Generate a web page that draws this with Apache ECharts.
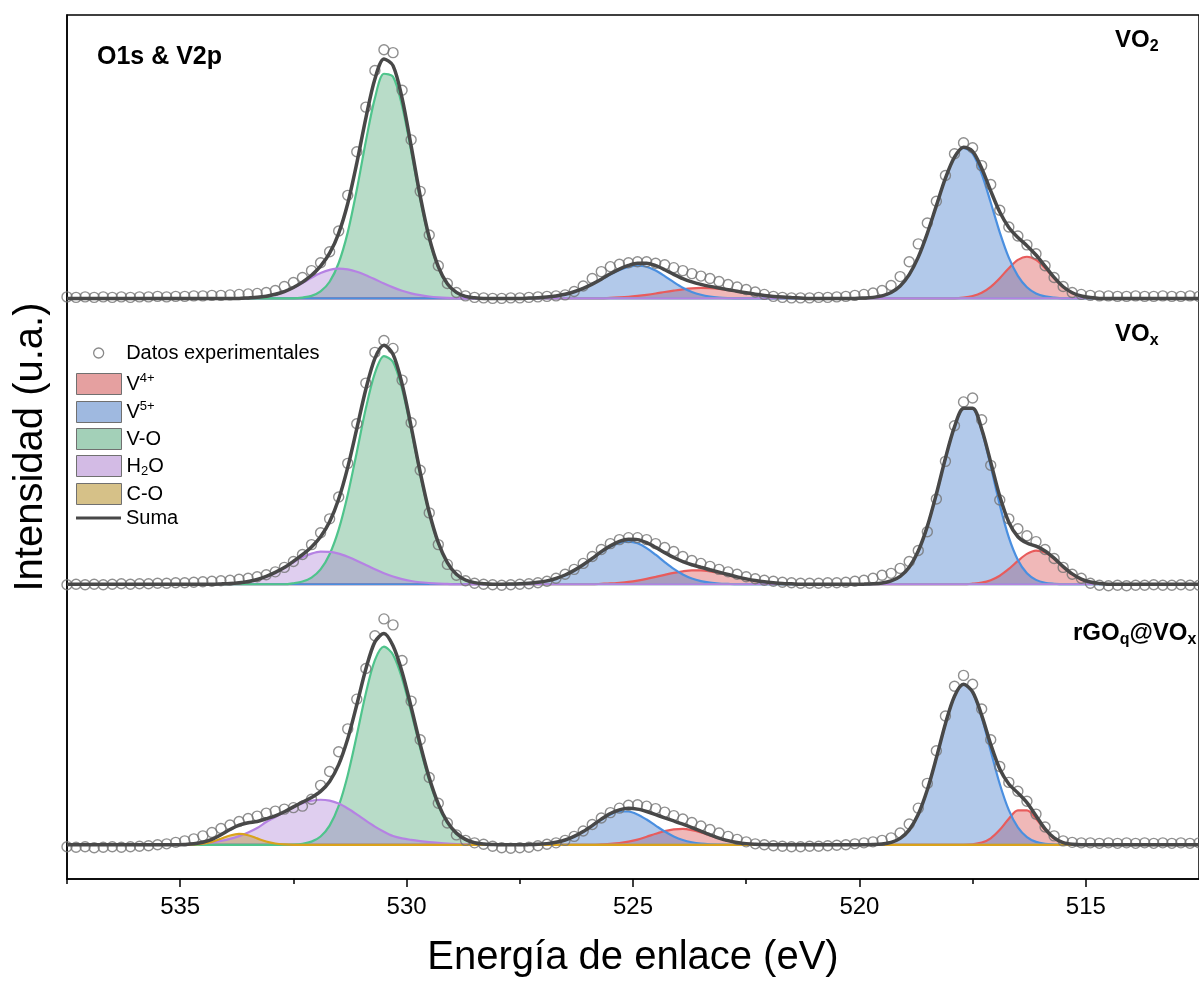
<!DOCTYPE html>
<html>
<head>
<meta charset="utf-8">
<script src="https://cdn.jsdelivr.net/npm/echarts@6/dist/echarts.min.js"></script>
<style>
html,body{margin:0;padding:0;background:#fff;}
#chart{width:1199px;height:983px;}
</style>
</head>
<body>
<div id="chart"></div>
<script>
// Binding energy grid (eV) for experimental points and fit envelope
const energy = [
537.5,537.3,537.1,536.9,536.7,536.5,536.3,536.1,535.9,535.7,
535.5,535.3,535.1,534.9,534.7,534.5,534.3,534.1,533.9,533.7,
533.5,533.3,533.1,532.9,532.7,532.5,532.3,532.1,531.9,531.7,
531.5,531.3,531.1,530.9,530.7,530.5,530.3,530.1,529.9,529.7,
529.5,529.3,529.1,528.9,528.7,528.5,528.3,528.1,527.9,527.7,
527.5,527.3,527.1,526.9,526.7,526.5,526.3,526.1,525.9,525.7,
525.5,525.3,525.1,524.9,524.7,524.5,524.3,524.1,523.9,523.7,
523.5,523.3,523.1,522.9,522.7,522.5,522.3,522.1,521.9,521.7,
521.5,521.3,521.1,520.9,520.7,520.5,520.3,520.1,519.9,519.7,
519.5,519.3,519.1,518.9,518.7,518.5,518.3,518.1,517.9,517.7,
517.5,517.3,517.1,516.9,516.7,516.5,516.3,516.1,515.9,515.7,
515.5,515.3,515.1,514.9,514.7,514.5,514.3,514.1,513.9,513.7,
513.5,513.3,513.1,512.9,512.7,512.5];

// ---------- VO2 (top) ----------
const vo2Data = [
1.5,1,1.5,1,1.5,1,1.5,1,1.5,1.5,
2,1.5,2,2,2.5,2.5,3,3,3.5,4,
4.5,5,6,8,12,16,21,28,36,47,
68,104,148,193,230,251,248,210,160,108,
64,33,15,6,2.5,1,0.5,0,0,0.5,
0.5,1,1.5,2,2.5,3.5,7,12.5,20,27,
32,34.5,36,37,37,35.5,34,31,28,25,
22.5,20,17,14,11.5,9,6.5,4,2,1,
0.5,0.5,0.5,1,1,1.5,2,3,4,5.5,
8,13,22,37,55,76,98,124,146,157,
152,134,115,89,72,63,54,45,33,21,
12,6,4,3,2.5,2.5,2,2,2.5,2,
2,2.5,2,2,2.5,2];
const vo2Sum = [
0,0,0,0,0,0,0,0,0,0,
0,0,0,0,0,0,0,0,0,0,
0.5,1.1,2.2,4.1,6.9,11.0,16.4,23.3,32.5,45.6,
65.7,95.8,136.5,182.0,221.4,241.7,234.9,202.2,153.9,103.4,
61.3,32.1,14.8,6.0,2.0,0.6,0,0,0,0,
0,0.3,0.7,1.3,2.4,4.1,6.7,10.1,14.4,19.3,
24.8,29.6,33.3,35.5,35.5,33.0,28.9,24.2,19.9,16.6,
14.1,12.1,10.4,8.8,7.1,5.6,4.2,3.0,2.0,1.3,
0.8,0.4,0,0,0,0,0,0,0.4,1.0,
2.5,5.9,12.5,24.0,41.6,65.6,93.6,121.3,142.5,152.6,
148.4,131.4,108.5,87.1,71.6,61.5,53.2,43.8,32.5,21.1,
11.7,5.7,2.4,0.8,0,0,0,0,0,0,
0,0,0,0,0,0];
const vo2V4 = [[537.5,0],[525.7,0],[525.5,0.6],[525.3,1.0],[525.1,1.6],[524.9,2.5],[524.7,3.6],[524.5,4.9],[524.3,6.4],[524.1,7.8],[523.9,9.1],[523.7,10.1],[523.5,10.5],[523.3,10.3],[523.1,9.6],[522.9,8.5],[522.7,7.1],[522.5,5.6],[522.3,4.2],[522.1,3.0],[521.9,2.0],[521.7,1.3],[521.5,0.8],[521.3,0.4],[521.1,0],[517.9,0],[517.7,0.8],[517.5,2.4],[517.3,5.7],[517.1,11.7],[516.9,20.4],[516.7,30.5],[516.5,38.8],[516.3,42],[516.1,38.8],[515.9,30.5],[515.7,20.4],[515.5,11.7],[515.3,5.7],[515.1,2.4],[514.9,0.8],[514.7,0],[512.5,0]];
const vo2V5 = [[537.5,0],[527.5,0],[527.3,0.3],[527.1,0.7],[526.9,1.3],[526.7,2.4],[526.5,4.1],[526.3,6.7],[526.1,10.1],[525.9,14.4],[525.7,19.3],[525.5,24.2],[525.3,28.6],[525.1,31.7],[524.9,33.0],[524.7,31.9],[524.5,28.1],[524.3,22.5],[524.1,16.4],[523.9,10.8],[523.7,6.5],[523.5,3.6],[523.3,1.8],[523.1,0.8],[522.9,0.3],[522.7,0],[520.1,0],[519.9,0.4],[519.7,1.0],[519.5,2.5],[519.3,5.9],[519.1,12.5],[518.9,24.0],[518.7,41.6],[518.5,65.6],[518.3,93.6],[518.1,121.3],[517.9,142.5],[517.7,151.8],[517.5,146.0],[517.3,125.7],[517.1,96.8],[516.9,66.7],[516.7,41.1],[516.5,22.7],[516.3,11.2],[516.1,5.0],[515.9,2.0],[515.7,0.7],[515.5,0],[512.5,0]];
const vo2VO = [[537.5,0],[532.5,0],[532.3,0.8],[532.1,2.5],[531.9,7.0],[531.7,16.8],[531.5,35.7],[531.3,66.6],[531.1,109.6],[530.9,158.6],[530.7,202.1],[530.5,226.7],[530.3,223.8],[530.1,194.5],[529.9,148.8],[529.7,100.2],[529.5,59.4],[529.3,31.0],[529.1,14.2],[528.9,5.7],[528.7,2.0],[528.5,0.6],[528.3,0],[512.5,0]];
const vo2H2O = [[537.5,0],[533.7,0],[533.5,0.5],[533.3,1.1],[533.1,2.2],[532.9,4.1],[532.7,6.9],[532.5,10.8],[532.3,15.6],[532.1,20.8],[531.9,25.5],[531.7,28.8],[531.5,30],[531.3,29.2],[531.1,26.9],[530.9,23.4],[530.7,19.3],[530.5,15.0],[530.3,11.1],[530.1,7.7],[529.9,5.1],[529.7,3.2],[529.5,1.9],[529.3,1.1],[529.1,0.6],[528.9,0.3],[528.7,0],[512.5,0]];

// ---------- VOx (middle) ----------
const voxData = [
-0.5,0,-0.5,0,-0.5,0,0.5,0,0.5,0.5,
1,1,1.5,1.5,2,2.5,3,3.5,4,5,
6,7.5,9.5,12.5,17,23,30,40,52,66,
88,122,162,203,234,246,238,206,163,115,
72,40,20,9,3.5,1,0,-0.5,-1,-0.5,
0,0.5,1.5,3,6,10,15,21,28,35,
41,45,47,47,45,41,37,33,28,24,
21,18,15,12.5,10,7.5,5.5,4,3,2,
1.5,1,1,1,1.5,1.5,2,3,4,6,
9,11,16,23,34,53,86,124,160,184,
188,166,120,85,66,56,49,43,35,26,
17,10,6,1,-1,-1.5,-1,-1.5,-1,-1,
-0.5,-1,-1,-0.5,-1,-1];
const voxSum = [
0,0,0,0,0,0,0,0,0,0,
0,0,0,0,0,0,0,0.3,0.7,1.5,
2.8,4.8,7.9,11.9,16.8,23.1,29.8,37.6,47.9,63.0,
86.0,118.0,157.1,196.8,228.0,241.3,232.1,202.2,159.2,113.1,
72.6,41.9,21.9,10.1,4.3,1.6,0.6,0,0,0.2,
0.5,1.0,1.9,3.4,5.8,9.3,14.0,19.7,26.1,32.9,
38.7,43.2,45.4,45.0,41.9,37.2,31.9,27.0,22.9,19.7,
17.1,14.6,12.2,9.8,7.4,5.4,3.7,2.4,1.5,0.8,
0.4,0,0,0,0,0,0,0,0.1,0.4,
1.2,3.3,7.9,17.2,33.5,58.4,91.1,127.2,158.9,177.5,
177.7,156.7,123.2,88.7,62.6,47.9,41.6,38.4,33.6,26.4,
17.8,10.4,5.2,2.2,0.8,0,0,0,0,0,
0,0,0,0,0,0];
const voxV4 = [[537.5,0],[525.9,0],[525.7,0.4],[525.5,0.8],[525.3,1.5],[525.1,2.4],[524.9,3.7],[524.7,5.4],[524.5,7.4],[524.3,9.5],[524.1,11.5],[523.9,13.0],[523.7,13.9],[523.5,13.9],[523.3,13.0],[523.1,11.5],[522.9,9.5],[522.7,7.4],[522.5,5.4],[522.3,3.7],[522.1,2.4],[521.9,1.5],[521.7,0.8],[521.5,0.4],[521.3,0],[517.7,0],[517.5,0.6],[517.3,1.6],[517.1,4.1],[516.9,8.6],[516.7,15.4],[516.5,23.5],[516.3,30.6],[516.1,34.0],[515.9,32.1],[515.7,25.9],[515.5,17.8],[515.3,10.4],[515.1,5.2],[514.9,2.2],[514.7,0.8],[514.5,0],[512.5,0]];
const voxV5 = [[537.5,0],[527.9,0],[527.7,0.2],[527.5,0.5],[527.3,1.0],[527.1,1.9],[526.9,3.4],[526.7,5.8],[526.5,9.3],[526.3,14.0],[526.1,19.7],[525.9,26.1],[525.7,32.5],[525.5,37.9],[525.3,41.7],[525.1,43],[524.9,41.3],[524.7,36.5],[524.5,29.8],[524.3,22.4],[524.1,15.5],[523.9,9.9],[523.7,5.8],[523.5,3.2],[523.3,1.6],[523.1,0.7],[522.9,0.3],[522.7,0],[520.1,0],[519.9,0.1],[519.7,0.4],[519.5,1.2],[519.3,3.3],[519.1,7.9],[518.9,17.2],[518.7,33.5],[518.5,58.4],[518.3,91.1],[518.1,127.2],[517.9,158.9],[517.7,177.5],[517.5,177.1],[517.3,155.1],[517.1,119.1],[516.9,80.1],[516.7,47.2],[516.5,24.4],[516.3,11.0],[516.1,4.4],[515.9,1.5],[515.7,0.5],[515.5,0],[512.5,0]];
const voxVO = [[537.5,0],[532.7,0],[532.5,1.0],[532.3,2.7],[532.1,6.7],[531.9,15.0],[531.7,30.3],[531.5,55.1],[531.3,90.3],[531.1,133.3],[530.9,177.5],[530.7,213.0],[530.5,230.2],[530.3,224.3],[530.1,197.0],[529.9,155.9],[529.7,111.1],[529.5,71.4],[529.3,41.3],[529.1,21.6],[528.9,10.1],[528.7,4.3],[528.5,1.6],[528.3,0.6],[528.1,0],[512.5,0]];
const voxH2O = [[537.5,0],[534.3,0],[534.1,0.3],[533.9,0.7],[533.7,1.5],[533.5,2.8],[533.3,4.8],[533.1,7.9],[532.9,11.9],[532.7,16.8],[532.5,22.1],[532.3,27.1],[532.1,30.9],[531.9,32.9],[531.7,32.7],[531.5,30.9],[531.3,27.7],[531.1,23.8],[530.9,19.3],[530.7,15.0],[530.5,11.1],[530.3,7.8],[530.1,5.2],[529.9,3.3],[529.7,2.0],[529.5,1.2],[529.3,0.6],[529.1,0.3],[528.9,0],[512.5,0]];

// ---------- rGOq@VOx (bottom) ----------
const rgoData = [
-2,-2.5,-2,-3,-2.5,-2,-2.5,-2,-1.5,-1,
0,1,2.5,4,6,9,12.5,16.5,20,23.5,
26.5,29,32,34,36,37.5,39,46,60,74,
94,117,147,178,211,228,222,186,145,106,
68,42,22,10,4.5,2,0.5,-1.5,-3,-3.5,
-3,-2.5,-1,0.5,2,4.5,8.5,14,20.5,27,
32.5,37,40,40.5,39,36.5,33,29.5,26,22.5,
19,15.5,12,8.5,5.5,3,1,0,-1,-1.5,
-2,-2,-1.5,-1.5,-1,-0.5,0,1,2,3,
4.5,7,12,21,37,62,95,130,160,171,
162,137,106,79,63,54,44,31,18,9,
4,2.5,2,2,1.5,2,1.5,2,1.5,2,
1.5,2,1.5,2,1.5,2];
const rgoSum = [
0,0,0,0,0,0,0,0,0,0,
0,0,0,0.4,1.1,2.6,5.5,10.1,15.4,19.8,
22.2,23.5,26.3,29.3,33.4,38.3,43.1,47.7,53.9,64.0,
80.9,107.0,141.3,177.4,204.8,213.2,200.8,174.5,139.1,101.5,
67.7,41.4,23.1,11.8,5.5,2.1,0.8,0.3,0,0,
0,0.2,0.5,1.2,2.6,4.9,8.5,13.4,19.4,25.9,
31.6,35.3,36.8,36.0,33.6,30.5,27.2,24.1,20.9,17.4,
13.7,10.1,6.8,4.2,2.4,1.2,0.6,0.2,0,0,
0,0,0,0,0,0,0,0,0,0.2,
0.8,2.5,6.5,15.1,30.8,55.5,87.8,122.3,150.0,162.0,
154.3,130.9,101.4,76.5,61.4,52.4,42.6,29.4,16.1,6.9,
2.2,0.5,0,0,0,0,0,0,0,0,
0,0,0,0,0,0];
const rgoV4 = [[537.5,0],[525.9,0],[525.7,0.4],[525.5,0.9],[525.3,1.7],[525.1,3.2],[524.9,5.3],[524.7,8.1],[524.5,11.1],[524.3,13.8],[524.1,15.6],[523.9,16],[523.7,14.8],[523.5,12.5],[523.3,9.6],[523.1,6.6],[522.9,4.2],[522.7,2.4],[522.5,1.2],[522.3,0.6],[522.1,0.2],[521.9,0],[517.7,0],[517.5,0.5],[517.3,2.2],[517.1,6.6],[516.9,15.1],[516.7,26.4],[516.5,34.8],[516.3,34.8],[516.1,26.4],[515.9,15.1],[515.7,6.6],[515.5,2.2],[515.3,0.5],[515.1,0],[512.5,0]];
const rgoV5 = [[537.5,0],[527.5,0],[527.3,0.2],[527.1,0.5],[526.9,1.2],[526.7,2.6],[526.5,4.9],[526.3,8.5],[526.1,13.4],[525.9,19.4],[525.7,25.5],[525.5,30.7],[525.3,33.6],[525.1,33.6],[524.9,30.7],[524.7,25.5],[524.5,19.4],[524.3,13.4],[524.1,8.5],[523.9,4.9],[523.7,2.6],[523.5,1.2],[523.3,0.5],[523.1,0.2],[522.9,0],[519.9,0],[519.7,0.2],[519.5,0.8],[519.3,2.5],[519.1,6.5],[518.9,15.1],[518.7,30.8],[518.5,55.5],[518.3,87.8],[518.1,122.3],[517.9,150.0],[517.7,162],[517.5,153.8],[517.3,128.7],[517.1,94.8],[516.9,61.4],[516.7,35.0],[516.5,17.6],[516.3,7.8],[516.1,3.0],[515.9,1.0],[515.7,0.3],[515.5,0],[512.5,0]];
const rgoVO = [[537.5,0],[532.7,0],[532.5,0.3],[532.3,1.1],[532.1,3.2],[531.9,8.4],[531.7,19.4],[531.5,39.3],[531.3,70.3],[531.1,110.5],[530.9,153.0],[530.7,186.4],[530.5,200],[530.3,191.9],[530.1,168.0],[529.9,134.1],[529.7,97.7],[529.5,64.9],[529.3,39.4],[529.1,21.8],[528.9,11.0],[528.7,5.1],[528.5,2.1],[528.3,0.8],[528.1,0.3],[527.9,0],[512.5,0]];
const rgoH2O = [[537.5,0],[535.1,0],[534.9,0.4],[534.7,0.8],[534.5,1.5],[534.3,2.5],[534.1,4],[533.9,6],[533.7,8.8],[533.5,12.5],[533.3,17],[533.1,23],[532.9,28],[532.7,33],[532.5,38],[532.3,42],[532.1,44.5],[531.9,45.5],[531.7,44.6],[531.5,41.6],[531.3,36.7],[531.1,30.8],[530.9,24.4],[530.7,18.4],[530.5,13.2],[530.3,8.9],[530.1,6.5],[529.9,5],[529.7,3.8],[529.5,2.8],[529.3,2],[529.1,1.3],[528.9,0.8],[528.7,0.4],[528.5,0],[512.5,0]];
const rgoCO = [[537.5,0],[534.9,0],[534.7,0.3],[534.5,1.1],[534.3,3.0],[534.1,6.1],[533.9,9.4],[533.7,11.0],[533.5,9.7],[533.3,6.5],[533.1,3.3],[532.9,1.3],[532.7,0.4],[532.5,0],[512.5,0]];

// tick labels
const majorTicks = [515, 520, 525, 530, 535];
const minorTicks = [517.5, 522.5, 527.5, 532.5, 537.5];

// vertical offsets of the stacked spectra (axis units)
const offsets = { vo2: 586, vox: 297.5, rgo: 34.5 };

const FONT = "'Liberation Sans', Arial, sans-serif";
const styles = {
  'V4+': { line: '#e85c5c', fill: 'rgba(215,70,70,0.55)', swatch: '#e5a0a0' },
  'V5+': { line: '#4a8fe0', fill: 'rgba(55,115,200,0.55)', swatch: '#9fb9e0' },
  'V-O': { line: '#4fc48c', fill: 'rgba(60,160,105,0.52)', swatch: '#a3d0b8' },
  'H2O': { line: '#b582e3', fill: 'rgba(165,115,210,0.5)', swatch: '#d3bbe5' },
  'C-O': { line: '#d9a21c', fill: 'rgba(180,140,30,0.55)', swatch: '#d6c188' }
};

function compSeries(name, pts, off) {
  const st = styles[name];
  return {
    name: name, type: 'line', xAxisIndex: 0, yAxisIndex: 0,
    data: pts.map(p => [p[0], p[1] + off]),
    symbol: 'none', smooth: 0.3, silent: true,
    lineStyle: { color: st.line, width: 2.2 },
    itemStyle: { color: st.line },
    areaStyle: { color: st.fill, origin: off },
    z: 2
  };
}
function dataSeries(vals, off) {
  return {
    name: 'Datos experimentales', type: 'scatter', xAxisIndex: 0, yAxisIndex: 0,
    data: energy.map((e, i) => [e, vals[i] + off]),
    symbol: 'circle', symbolSize: 10, silent: true,
    itemStyle: { color: 'rgba(255,255,255,0)', borderColor: '#737373', borderWidth: 1.4 },
    z: 3
  };
}
function sumSeries(vals, off) {
  return {
    name: 'Suma', type: 'line', xAxisIndex: 0, yAxisIndex: 0,
    data: energy.map((e, i) => [e, vals[i] + off]),
    symbol: 'none', smooth: 0.3, silent: true,
    lineStyle: { color: '#484848', width: 3.5 },
    itemStyle: { color: '#484848' },
    z: 4
  };
}

const series = [
  compSeries('V4+', vo2V4, offsets.vo2), compSeries('V5+', vo2V5, offsets.vo2),
  compSeries('V-O', vo2VO, offsets.vo2), compSeries('H2O', vo2H2O, offsets.vo2),
  compSeries('V4+', voxV4, offsets.vox), compSeries('V5+', voxV5, offsets.vox),
  compSeries('V-O', voxVO, offsets.vox), compSeries('H2O', voxH2O, offsets.vox),
  compSeries('V4+', rgoV4, offsets.rgo), compSeries('V5+', rgoV5, offsets.rgo),
  compSeries('V-O', rgoVO, offsets.rgo), compSeries('H2O', rgoH2O, offsets.rgo),
  compSeries('C-O', rgoCO, offsets.rgo),
  dataSeries(vo2Data, offsets.vo2), dataSeries(voxData, offsets.vox), dataSeries(rgoData, offsets.rgo),
  sumSeries(vo2Sum, offsets.vo2), sumSeries(voxSum, offsets.vox), sumSeries(rgoSum, offsets.rgo)
];

const richLegend = {
  n: { fontSize: 20, fontFamily: FONT, color: '#000', lineHeight: 24 },
  sup: { fontSize: 13, fontFamily: FONT, color: '#000', verticalAlign: 'top', lineHeight: 14 },
  sub: { fontSize: 13, fontFamily: FONT, color: '#000', verticalAlign: 'bottom', lineHeight: 14 }
};
function legendFmt(name) {
  if (name === 'V4+') return '{n|V}{sup|4+}';
  if (name === 'V5+') return '{n|V}{sup|5+}';
  if (name === 'H2O') return '{n|H}{sub|2}{n|O}';
  return '{n|' + name + '}';
}
const legendBase = {
  orient: 'vertical', left: 76, padding: 0, itemWidth: 45,
  selectedMode: false, formatter: legendFmt,
  textStyle: { fontSize: 20, fontFamily: FONT, color: '#000', rich: richLegend }
};

const richLabel = {
  a: { fontSize: 24, fontWeight: 'bold', fontFamily: FONT, color: '#000', lineHeight: 30, verticalAlign: 'middle' },
  b: { fontSize: 16, fontWeight: 'bold', fontFamily: FONT, color: '#000', lineHeight: 16, verticalAlign: 'bottom' }
};

const option = {
  animation: false,
  backgroundColor: '#fff',
  title: [
    { text: 'O1s & V2p', left: 97, top: 42, padding: 0,
      textStyle: { fontSize: 25, fontWeight: 'bold', fontFamily: FONT, color: '#000', lineHeight: 30 } },
    { text: '{a|VO}{b|2}', left: 1115, top: 25, padding: 0, textStyle: { rich: richLabel } },
    { text: '{a|VO}{b|x}', left: 1115, top: 319, padding: 0, textStyle: { rich: richLabel } },
    { text: '{a|rGO}{b|q}{a|@VO}{b|x}', left: 1073, top: 618, padding: 0, textStyle: { rich: richLabel } }
  ],
  legend: [
    Object.assign({}, legendBase, {
      left: 93, top: 343, itemHeight: 10,
      data: [{ name: 'Datos experimentales', icon: 'circle',
        itemStyle: { color: '#fff', borderColor: '#6a6a6a', borderWidth: 1.3 } }]
    }),
    Object.assign({}, legendBase, {
      top: 372, itemHeight: 21, itemGap: 5,
      data: ['V4+', 'V5+', 'V-O', 'H2O', 'C-O'].map(n => ({
        name: n, icon: 'rect',
        itemStyle: { color: styles[n].swatch, borderColor: '#707070', borderWidth: 1 }
      }))
    }),
    Object.assign({}, legendBase, {
      top: 508, itemHeight: 3,
      data: [{ name: 'Suma', icon: 'rect', itemStyle: { color: '#484848', borderWidth: 0 } }]
    })
  ],
  grid: { left: 67, right: -7, top: 15, bottom: 96, show: true,
          borderColor: '#000', borderWidth: 1.5, backgroundColor: 'transparent' },
  xAxis: [
    { type: 'value', min: 512.5, max: 537.5, inverse: true, position: 'bottom',
      axisLine: { show: true, onZero: false, lineStyle: { color: '#000', width: 1.5 } },
      axisTick: { show: true, customValues: majorTicks, length: 8, lineStyle: { color: '#000', width: 1.5 } },
      axisLabel: { show: true, customValues: majorTicks, fontSize: 24, fontFamily: FONT, color: '#000', margin: 16 },
      splitLine: { show: false },
      name: 'Energía de enlace (eV)', nameLocation: 'middle', nameGap: 59,
      nameTextStyle: { fontSize: 40, fontFamily: FONT, color: '#000' } },
    { type: 'value', min: 512.5, max: 537.5, inverse: true, position: 'bottom',
      axisLine: { show: false, onZero: false },
      axisTick: { show: true, customValues: minorTicks, length: 5, lineStyle: { color: '#000', width: 1.5 } },
      axisLabel: { show: false }, splitLine: { show: false } }
  ],
  yAxis: [
    { type: 'value', min: 0, max: 872,
      axisLine: { show: true, onZero: false, lineStyle: { color: '#000', width: 1.5 } },
      axisTick: { show: false }, axisLabel: { show: false }, splitLine: { show: false },
      name: 'Intensidad (u.a.)', nameLocation: 'middle', nameRotate: 90, nameGap: 16,
      nameTextStyle: { fontSize: 40, fontFamily: FONT, color: '#000' } }
  ],
  series: series
};

const chart = echarts.init(document.getElementById('chart'), null, { renderer: 'canvas' });
chart.setOption(option);
</script>
</body>
</html>
